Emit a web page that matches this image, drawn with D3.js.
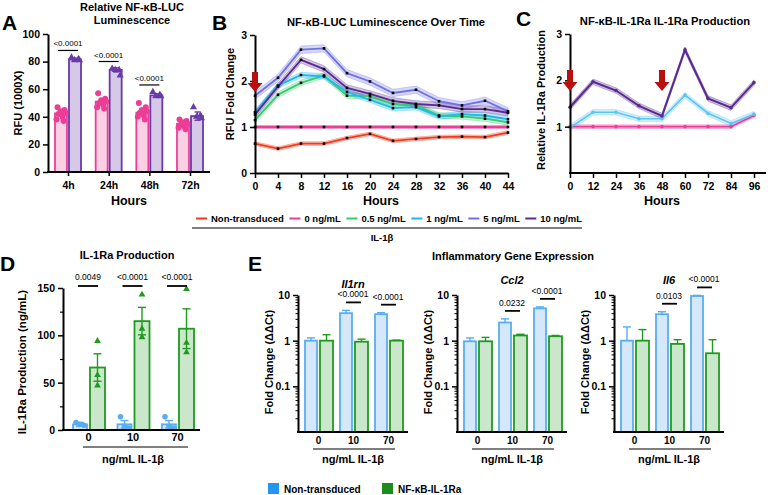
<!DOCTYPE html>
<html><head><meta charset="utf-8">
<script src="https://cdn.jsdelivr.net/npm/d3@7"></script>
<style>body{margin:0;background:#fff}svg{font-family:"Liberation Sans",Arial,sans-serif}</style>
</head><body><svg id="c" width="768" height="495"></svg>
<script>
// ================= DATA =================
// Panel A
const aHours = ["4h","24h","48h","72h"];
const aYTicks = [0,20,40,60,80,100];
const aPinkMean = [42.5, 51, 43, 35];
const aPinkErr = [1.5, 1.5, 1.5, 1];
const aPinkPts = [[47,45,44,43,42,40,38,37],[57,53,52,51,50,49,47,46],[50,47,45,44,43,41,40,38],[38,37,36,35,34,33,32,31]];
const aPurpMean = [81.5, 74, 55.5, 40.5];
const aPurpErr = [1, 1.5, 1.2, 3];
const aPurpPts = [[83,82,81,81],[75,74,74,70],[58,56,55,55],[47,41,40,39]];
const aSig = ["<0.0001","<0.0001","<0.0001",null];

// Panel B
const bHours = [0,4,8,12,16,20,24,28,32,36,40,44];
const bSeriesNames = ["Non-transduced","0 ng/mL","0.5 ng/mL","1 ng/mL","5 ng/mL","10 ng/mL"];
const bNonTrans = [0.64,0.53,0.64,0.64,0.76,0.85,0.70,0.74,0.78,0.79,0.78,0.88];
const b0 = [1,1,1,1,1,1,1,1,1,1,1,1];
const b05 = [1.15,1.70,1.96,2.12,1.68,1.67,1.50,1.47,1.25,1.23,1.18,1.10];
const b1 = [1.32,1.90,2.13,2.10,1.76,1.59,1.41,1.43,1.23,1.28,1.25,1.17];
const b5 = [1.68,2.07,2.68,2.71,2.17,1.99,1.74,1.81,1.56,1.47,1.57,1.34];
const b10 = [1.27,1.88,2.46,2.26,1.85,1.72,1.57,1.50,1.47,1.39,1.39,1.31];
const bBand = [0.04,0.03,0.06,0.06,0.08,0.07];
const bYTicks = [0,1,2,3];

// Panel C
const cHours = [0,12,24,36,48,60,72,84,96];
const c10 = [1.42,1.97,1.78,1.45,1.23,2.66,1.61,1.41,1.95];
const c1 = [0.98,1.31,1.31,1.17,1.17,1.68,1.29,1.07,1.27];
const c0 = [1,1,1,1,1,1,1,1,1.24];
const cBand = [0.06,0.06,0.04];
const cYTicks = [1,2,3];
const cArrowHours = [0,48];

// Panel D
const dDoses = ["0","10","70"];
const dYTicks = [0,50,100,150];
const dNTMean = [6,6,6];
const dNTErr = [2,4,4];
const dNTPts = [[8,6,5],[14,4,2],[14,4,2]];
const dTrMean = [66,115,107];
const dTrErr = [14.5,14.5,21];
const dTrPts = [[94,58,47],[143,107,98],[149,92,82]];
const dSig = ["0.0049","<0.0001","<0.0001"];

// Panel E
const eGenes = ["Il1rn","Ccl2","Il6"];
const eDoses = ["0","10","70"];
const eNT = [[1.0,4.0,3.8],[0.97,2.5,5.1],[1.0,3.8,9.5]];
const eNTTop = [[1.15,4.6,4.1],[1.15,3.0,5.5],[2.0,4.3,9.8]];
const eTr = [[1.0,0.95,1.0],[0.97,1.3,1.25],[1.0,0.85,0.53]];
const eTrTop = [[1.35,1.08,1.03],[1.18,1.38,1.3],[1.75,1.05,1.05]];
const eSig = [[null,"<0.0001","<0.0001"],[null,"0.0232","<0.0001"],[null,"0.0103","<0.0001"]];
const eYTicks = [0.1,1,10];

// ================= DRAW =================
const svg = d3.select("#c");
const FONT = "'Liberation Sans', Arial, sans-serif";
function txt(x,y,s,o={}){
  const t = svg.append("text").attr("x",x).attr("y",y).text(s)
    .attr("font-size",o.size||10).attr("font-weight",o.bold===false?"normal":"bold")
    .attr("text-anchor",o.anchor||"middle").attr("font-style",o.italic?"italic":"normal")
    .attr("fill",o.fill||"#000").attr("font-family",FONT);
  if(o.rotate) t.attr("transform",`rotate(${o.rotate},${x},${y})`);
  return t;
}
function styleAxis(g,fs){
  g.selectAll("line").attr("stroke","#000").attr("stroke-width",1.5);
  g.select(".domain").attr("stroke","#000").attr("stroke-width",2);
  g.selectAll("text").attr("font-size",fs||10).attr("font-weight","bold").attr("font-family",FONT).attr("fill","#000");
}
function hline(x1,x2,y,w,c){svg.append("line").attr("x1",x1).attr("x2",x2).attr("y1",y).attr("y2",y).attr("stroke",c||"#000").attr("stroke-width",w||1.2);}
function errBar(x,y1,y2,col,cap,both){
  svg.append("line").attr("x1",x).attr("x2",x).attr("y1",y1).attr("y2",y2).attr("stroke",col).attr("stroke-width",1.4);
  svg.append("line").attr("x1",x-cap).attr("x2",x+cap).attr("y1",y1).attr("y2",y1).attr("stroke",col).attr("stroke-width",1.4);
  if(both) svg.append("line").attr("x1",x-cap).attr("x2",x+cap).attr("y1",y2).attr("y2",y2).attr("stroke",col).attr("stroke-width",1.4);
}
const jit = [-4,3,-1,4,-3,1,-5,2];

// ---------- Panel A ----------
const PINK="#EE3D96", PINKF="#FBD0E4", PURP="#6A3AA8", PURPF="#D6C9E8";
const xA = d3.scalePoint().domain(aHours).range([68,190]);
const yA = d3.scaleLinear().domain([0,100]).range([172,34]);
const bwA = 13;
aHours.forEach((h,i)=>{
  const c = xA(h);
  svg.append("rect").attr("x",c-bwA).attr("y",yA(aPinkMean[i])).attr("width",bwA-1).attr("height",yA(0)-yA(aPinkMean[i]))
    .attr("fill",PINKF).attr("stroke",PINK).attr("stroke-width",1.8);
  svg.append("rect").attr("x",c+1).attr("y",yA(aPurpMean[i])).attr("width",bwA-1).attr("height",yA(0)-yA(aPurpMean[i]))
    .attr("fill",PURPF).attr("stroke",PURP).attr("stroke-width",1.8);
  aPinkPts[i].forEach((v,j)=>svg.append("circle").attr("cx",c-bwA/2+jit[j]).attr("cy",yA(v)).attr("r",3).attr("fill",PINK));
  aPurpPts[i].forEach((v,j)=>svg.append("path").attr("d",d3.symbol(d3.symbolTriangle,22)())
    .attr("transform",`translate(${c+bwA/2+1+jit[j]},${yA(v)})`).attr("fill",PURP));
  errBar(c-bwA/2,yA(aPinkMean[i]+aPinkErr[i]),yA(aPinkMean[i]-aPinkErr[i]),PINK,3,true);
  errBar(c+bwA/2+1,yA(aPurpMean[i]+aPurpErr[i]),yA(aPurpMean[i]-aPurpErr[i]),PURP,3,true);
  if(aSig[i]){
    const ly = yA(d3.max(aPurpPts[i]))-7;
    hline(c-10,c+10,ly,1.2);
    txt(c,ly-4,aSig[i],{size:8,bold:false});
  }
});
const gAy = svg.append("g").attr("transform","translate(48,0)").call(d3.axisLeft(yA).tickValues(aYTicks).tickSize(5).tickSizeOuter(0));
styleAxis(gAy,10.5);
const gAx = svg.append("g").attr("transform","translate(0,172)").call(d3.axisBottom(xA).tickSize(4).tickSizeOuter(0).tickPadding(6));
styleAxis(gAx,10.5); gAx.select(".domain").remove();
hline(47,210,172,2);
txt(129,205,"Hours",{size:12.5});
txt(22,103,"RFU (1000X)",{size:11,rotate:-90});
txt(132,11,"Relative NF-κB-LUC",{size:11});
txt(132,24,"Luminescence",{size:11});
txt(2,30,"A",{size:21,anchor:"start"});

// ---------- Panel B ----------
const bCols = ["#F23B1C","#EE3D96","#36CC6A","#1FB8EE","#7070E8","#5A2A92"];
const bData = [bNonTrans,b0,b05,b1,b5,b10];
const xB = d3.scaleLinear().domain([0,44]).range([255,508]);
const yB = d3.scaleLinear().domain([0,3]).range([173,35]);
bData.forEach((s,k)=>{
  const area = d3.area().x((d,i)=>xB(bHours[i])).y0(d=>yB(d-bBand[k])).y1(d=>yB(d+bBand[k]));
  svg.append("path").attr("d",area(s)).attr("fill",bCols[k]).attr("fill-opacity",0.28)
    .attr("stroke",bCols[k]).attr("stroke-opacity",0.5).attr("stroke-width",0.6);
});
bData.forEach((s,k)=>{
  const line = d3.line().x((d,i)=>xB(bHours[i])).y(d=>yB(d));
  svg.append("path").attr("d",line(s)).attr("fill","none").attr("stroke",bCols[k]).attr("stroke-width",k===1?2.4:1.8);
});
bData.forEach((s,k)=>{
  s.forEach((v,i)=>svg.append("rect").attr("x",xB(bHours[i])-1.3).attr("y",yB(v)-1.3).attr("width",2.6).attr("height",2.6).attr("fill","#000"));
});
const gBy = svg.append("g").attr("transform","translate(255,0)").call(d3.axisLeft(yB).tickValues(bYTicks).tickFormat(d3.format("d")).tickSize(5).tickSizeOuter(0));
styleAxis(gBy,10.5);
const gBx = svg.append("g").attr("transform","translate(0,173)").call(d3.axisBottom(xB).tickValues(bHours).tickSize(5).tickSizeOuter(0).tickPadding(5));
styleAxis(gBx,10.5);
txt(381,205,"Hours",{size:12.5});
txt(234,94,"RFU Fold Change",{size:11,rotate:-90});
txt(386,26,"NF-κB-LUC Luminescence Over Time",{size:11.2});
txt(212,30,"B",{size:21,anchor:"start"});
const ARROW="#B80F0F";
function arrow(x,yt,yb){
  const p = d3.path();
  p.moveTo(x-3,yt); p.lineTo(x+3,yt); p.lineTo(x+3,yb-9); p.lineTo(x+7.5,yb-9); p.lineTo(x,yb);
  p.lineTo(x-7.5,yb-9); p.lineTo(x-3,yb-9); p.closePath();
  svg.append("path").attr("d",p.toString()).attr("fill",ARROW);
}
arrow(xB(0),72,92);

// legend B: lay items out sequentially between 196 and 582
{
  const legStart = 196, legEnd = 582, lineW = 11, lineGap = 4;
  const items = bSeriesNames.map((n,k)=>{
    const t = txt(0,222,n,{size:9.5,anchor:"start"});
    return {t, w: t.node().getComputedTextLength(), k};
  });
  const total = d3.sum(items,d=>d.w+lineW+lineGap);
  const gap = (legEnd-legStart-total)/(items.length-1);
  let x = legStart;
  items.forEach(it=>{
    hline(x,x+lineW,218.5,2,bCols[it.k]);
    it.t.attr("x",x+lineW+lineGap);
    x += lineW+lineGap+it.w+gap;
  });
}
hline(192,582,228,1.2);
txt(382,241,"IL-1β",{size:9.5});

// ---------- Panel C ----------
const cCols = ["#5A2A92","#5CC6F2","#EE3D96"];
const cData = [c10,c1,c0];
const xC = d3.scaleLinear().domain([0,96]).range([570,754]);
const yC = d3.scaleLinear().domain([0,3]).range([173,34]);
cData.slice().reverse().forEach((s,kk)=>{
  const k = 2-kk;
  const area = d3.area().x((d,i)=>xC(cHours[i])).y0(d=>yC(d-cBand[k])).y1(d=>yC(d+cBand[k]));
  svg.append("path").attr("d",area(s)).attr("fill",cCols[k]).attr("fill-opacity",0.3)
    .attr("stroke",cCols[k]).attr("stroke-opacity",0.5).attr("stroke-width",0.6);
});
cData.slice().reverse().forEach((s,kk)=>{
  const k = 2-kk;
  svg.append("path").attr("d",d3.line().x((d,i)=>xC(cHours[i])).y(d=>yC(d))(s)).attr("fill","none").attr("stroke",cCols[k]).attr("stroke-width",k===0?2:1.6);
  s.forEach((v,i)=>svg.append("circle").attr("cx",xC(cHours[i])).attr("cy",yC(v)).attr("r",1.8).attr("fill",cCols[k]));
});
const gCy = svg.append("g").attr("transform","translate(570,0)").call(d3.axisLeft(yC).tickValues(cYTicks).tickFormat(d3.format("d")).tickSize(5).tickSizeOuter(0));
styleAxis(gCy,10.5);
const gCx = svg.append("g").attr("transform","translate(0,173)").call(d3.axisBottom(xC).tickValues(cHours).tickSize(5).tickSizeOuter(0).tickPadding(5));
styleAxis(gCx,10.5); gCx.select(".domain").remove();
hline(569,766,173,2);
txt(662,205,"Hours",{size:12.5});
txt(545,100,"Relative IL-1Ra Production",{size:11,rotate:-90});
txt(665,25,"NF-κB-IL-1Ra IL-1Ra Production",{size:11.2});
txt(516,26,"C",{size:21,anchor:"start"});
cArrowHours.forEach(h=>arrow(xC(h),70,91));

// ---------- Panel D ----------
const BLUE="#58ADF2", BLUEF="#D5E8FB", GRN="#1E9B1E", GRNF="#CBE7CB";
const xD = d3.scalePoint().domain(dDoses).range([88,177]);
const yD = d3.scaleLinear().domain([0,150]).range([430,288]);
dDoses.forEach((d,i)=>{
  const c = xD(d);
  svg.append("rect").attr("x",c-15).attr("y",yD(dNTMean[i])).attr("width",14).attr("height",yD(0)-yD(dNTMean[i])).attr("fill",BLUEF).attr("stroke",BLUE).attr("stroke-width",1.8);
  svg.append("rect").attr("x",c+2).attr("y",yD(dTrMean[i])).attr("width",15).attr("height",yD(0)-yD(dTrMean[i])).attr("fill",GRNF).attr("stroke",GRN).attr("stroke-width",1.8);
  errBar(c-8,yD(dNTMean[i]+dNTErr[i]),yD(dNTMean[i]-dNTErr[i]),BLUE,4,true);
  errBar(c+9.5,yD(dTrMean[i]+dTrErr[i]),yD(dTrMean[i]-dTrErr[i]),GRN,4,true);
  dNTPts[i].forEach((v,j)=>svg.append("circle").attr("cx",c-8+[-4,0,4][j]).attr("cy",yD(v)).attr("r",2.8).attr("fill",BLUE));
  dTrPts[i].forEach((v,j)=>svg.append("path").attr("d",d3.symbol(d3.symbolTriangle,20)()).attr("transform",`translate(${c+9.5},${yD(v)})`).attr("fill",GRN));
  hline(c-10,c+10,286,1.8);
  txt(c,280,dSig[i],{size:8.5,bold:false});
});
const gDy = svg.append("g").attr("transform","translate(63,0)").call(d3.axisLeft(yD).tickValues(dYTicks).tickSize(5).tickSizeOuter(0));
styleAxis(gDy,10.5);
svg.append("g").attr("transform","translate(63,0)").call(d3.axisLeft(yD).tickValues([25,75,125]).tickSize(3).tickFormat("")).call(g=>{g.select(".domain").remove();g.selectAll("line").attr("stroke","#000").attr("stroke-width",1.2);});
const gDx = svg.append("g").attr("transform","translate(0,430)").call(d3.axisBottom(xD).tickSize(0).tickPadding(3));
styleAxis(gDx,11); gDx.select(".domain").remove();
hline(62,200,430,2);
hline(83,188,447,1.2);
txt(133,463,"ng/mL IL-1β",{size:11});
txt(26,362,"IL-1Ra Production (ng/mL)",{size:11.5,rotate:-90});
txt(127,259,"IL-1Ra Production",{size:11});
txt(0,271,"D",{size:21,anchor:"start"});

// ---------- Panel E ----------
const eX0 = [298,457,614];
const yE = d3.scaleLog().domain([0.01,10]).range([432,295]);
const eTitleY = [288,284,284];
const minorE = [];
[0.01,0.1,1].forEach(dec=>{for(let m=2;m<=9;m++) minorE.push(dec*m);});
eGenes.forEach((g,k)=>{
  const x0 = eX0[k];
  const xE = d3.scalePoint().domain(eDoses).range([x0+20,x0+90]);
  eDoses.forEach((d,i)=>{
    const c = xE(d);
    svg.append("rect").attr("x",c-13).attr("y",yE(eNT[k][i])).attr("width",12).attr("height",yE(0.01)-yE(eNT[k][i])).attr("fill",BLUEF).attr("stroke",BLUE).attr("stroke-width",1.8);
    svg.append("rect").attr("x",c+2).attr("y",yE(eTr[k][i])).attr("width",13).attr("height",yE(0.01)-yE(eTr[k][i])).attr("fill",GRNF).attr("stroke",GRN).attr("stroke-width",1.8);
    errBar(c-7,yE(eNTTop[k][i]),yE(eNT[k][i]),BLUE,4,false);
    errBar(c+8.5,yE(eTrTop[k][i]),yE(eTr[k][i]),GRN,4,false);
    if(eSig[k][i]){
      const ly = yE(Math.max(eNTTop[k][i],eTrTop[k][i]))-8;
      hline(c-7,c+8,ly,1.8);
      txt(c,ly-5,eSig[k][i],{size:8.5,bold:false});
    }
  });
  const gy = svg.append("g").attr("transform",`translate(${x0},0)`).call(d3.axisLeft(yE).tickValues(eYTicks).tickFormat(d3.format("")).tickSize(5).tickSizeOuter(0));
  styleAxis(gy,10.5);
  svg.append("g").attr("transform",`translate(${x0},0)`).call(d3.axisLeft(yE).tickValues(minorE).tickSize(2.5).tickFormat("")).call(g=>{g.select(".domain").remove();g.selectAll("line").attr("stroke","#000").attr("stroke-width",1);});
  const gx = svg.append("g").attr("transform","translate(0,432)").call(d3.axisBottom(xE).tickSize(0).tickPadding(5));
  styleAxis(gx,10); gx.select(".domain").remove();
  hline(x0-1,x0+110,432,2);
  hline(x0+15,x0+97,449,1.2);
  txt(x0+55,463,"ng/mL IL-1β",{size:11});
  txt(x0-25,362,"Fold Change (ΔΔCt)",{size:11,rotate:-90});
  txt(x0+55,eTitleY[k],g,{size:11,italic:true});
});
txt(513,260,"Inflammatory Gene Expression",{size:11});
txt(248,271,"E",{size:21,anchor:"start"});

// bottom legend
svg.append("rect").attr("x",268).attr("y",483).attr("width",11).attr("height",11).attr("fill","#2196F3");
txt(284,492.5,"Non-transduced",{size:10,anchor:"start"});
svg.append("rect").attr("x",382).attr("y",483).attr("width",11).attr("height",11).attr("fill","#1C8C1C");
txt(398,492.5,"NF-κB-IL-1Ra",{size:10,anchor:"start"});
</script></body></html>
